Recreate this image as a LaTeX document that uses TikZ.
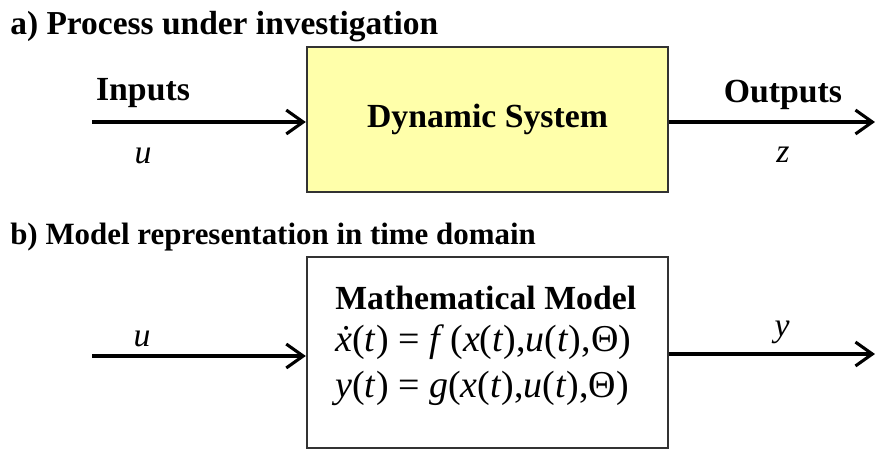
\documentclass[tikz,border=0pt]{standalone}
\usepackage{fontspec}
\setmainfont{Liberation Serif}
\usetikzlibrary{arrows.meta,positioning}
\definecolor{sysyellow}{HTML}{FFFFAA}

\begin{document}
\begin{tikzpicture}[x=0.025cm,y=-0.025cm,
    every node/.style={font=\fontsize{24}{28}\selectfont,inner sep=0pt},
    block/.style={draw=black!80,line width=1.6pt,minimum width=9.025cm},
    sig/.style={line width=2.2pt,-{Straight Barb[length=12pt,width=17pt,line width=2.2pt]}},
    lab/.style={font=\fontsize{24}{28}\selectfont\bfseries},
    eq/.style={font=\fontsize{27}{32}\selectfont,anchor=base west}]
  \useasboundingbox (0,0) rectangle (875,450);
  % a) process under investigation
  \node[lab,font=\fontsize{23.8}{28}\selectfont\bfseries,anchor=base west] (titlea) at (10,34) {a) Process under investigation};
  \node[block,fill=sysyellow,minimum height=3.625cm] (sys) at (487.5,119.5) {\bfseries Dynamic System};
  \coordinate (ina) at (92,122);
  \coordinate (outa) at (875,122);
  \draw[sig] (ina) -- (ina -| sys.west);
  \draw[sig] (outa -| sys.east) -- (outa);
  \node[lab] (inputs) at (143,93) {Inputs};
  \node (ua) at (143,156) {\itshape u};
  \node[lab] (outputs) at (783,95) {Outputs};
  \node (za) at (783,155) {\itshape z};
  % b) model in time domain
  \node[lab,font=\fontsize{22}{26}\selectfont\bfseries,anchor=base west] (titleb) at (10,244) {b) Model representation in time domain};
  \node[block,fill=white,minimum height=4.775cm] (model) at (487.5,352.5) {};
  \node[lab,anchor=base west] (modeltitle) at (335,309) {Mathematical Model};
  \node[eq] (stateeq) at (335,351) {\textit{\.x}(\textit{t}) = \textit{f}\,(\textit{x}(\textit{t}),\textit{u}(\textit{t}),Θ)};
  \node[eq] (outeq) at (335,397) {\textit{y}(\textit{t}) = \textit{g}(\textit{x}(\textit{t}),\textit{u}(\textit{t}),Θ)};
  \coordinate (inb) at (92,356);
  \coordinate (outb) at (875,354);
  \draw[sig] (inb) -- (inb -| model.west);
  \draw[sig] (outb -| model.east) -- (outb);
  \node (ub) at (142,339) {\itshape u};
  \node (yb) at (782,332) {\itshape y};
\end{tikzpicture}
\end{document}
